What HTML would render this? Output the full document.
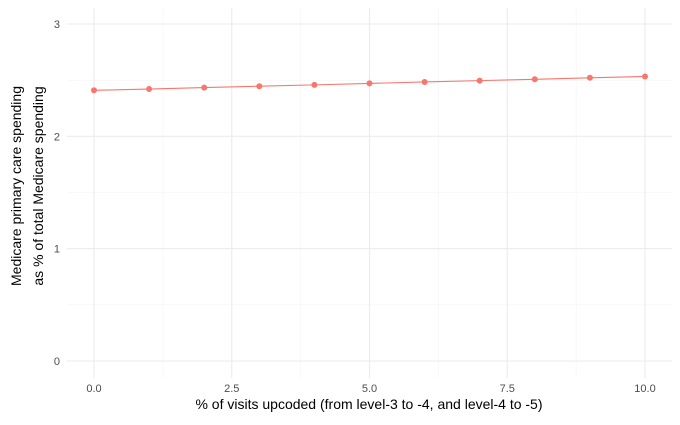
<!DOCTYPE html>
<html><head><meta charset="utf-8"><style>
body{margin:0;background:#fff;font-family:"Liberation Sans",sans-serif}
svg text{font-family:"Liberation Sans",sans-serif}
</style></head><body>
<svg id="chart" width="680" height="420" xmlns="http://www.w3.org/2000/svg">
<g id="grid"></g>
<g id="axes"></g>
<g id="series"></g>
<text x="369" y="409" font-size="14" text-anchor="middle" fill="#000">% of visits upcoded (from level-3 to -4, and level-4 to -5)</text>
<text transform="translate(21,186) rotate(-90)" font-size="14" text-anchor="middle" fill="#000"><tspan x="0" dy="0">Medicare primary care spending</tspan><tspan x="0" dy="22">as % of total Medicare spending</tspan></text>
</svg>
<script>
const xValues=[0,1,2,3,4,5,6,7,8,9,10];
const yValues=[2.41,2.421,2.434,2.446,2.458,2.471,2.484,2.496,2.508,2.521,2.533];
const xTicks=[0,2.5,5,7.5,10];
const xTickLabels=["0.0","2.5","5.0","7.5","10.0"];
const yTicks=[0,1,2,3];
const yTickLabels=["0","1","2","3"];
const NS="http://www.w3.org/2000/svg";
const L=67,R=672,T=8,B=378;
const sx=v=>94+(v-0)*(645-94)/10;
const sy=v=>361-v*(361-24)/3;
function mk(tag,attrs,parent){const e=document.createElementNS(NS,tag);for(const k in attrs)e.setAttribute(k,attrs[k]);parent.appendChild(e);return e;}
const grid=document.getElementById('grid'),axes=document.getElementById('axes'),series=document.getElementById('series');
for(let i=0;i<xTicks.length-1;i++){const m=(xTicks[i]+xTicks[i+1])/2;
 const l=mk('line',{x1:sx(m),x2:sx(m),y1:T,y2:B,stroke:'#f3f3f3','stroke-width':0.6},grid);
 }
for(let i=0;i<yTicks.length-1;i++){const m=(yTicks[i]+yTicks[i+1])/2;
 const l=mk('line',{x1:L,x2:R,y1:sy(m),y2:sy(m),stroke:'#f3f3f3','stroke-width':0.6},grid);
 }
xTicks.forEach((v,i)=>{const l=mk('line',{x1:sx(v),x2:sx(v),y1:T,y2:B,stroke:'#ebebeb','stroke-width':1.1},grid);
 
 const t=mk('text',{x:sx(v),y:392,'font-size':11,'text-anchor':'middle',fill:'#4d4d4d'},axes);t.textContent=xTickLabels[i];
 });
yTicks.forEach((v,i)=>{const l=mk('line',{x1:L,x2:R,y1:sy(v),y2:sy(v),stroke:'#ebebeb','stroke-width':1.1},grid);
 
 const t=mk('text',{x:60,y:sy(v)+4,'font-size':11,'text-anchor':'end',fill:'#4d4d4d'},axes);t.textContent=yTickLabels[i];
 });
const pl=mk('polyline',{points:xValues.map((x,i)=>sx(x)+','+sy(yValues[i])).join(' '),fill:'none',stroke:'#f8766d','stroke-width':1.1},series);

xValues.forEach((x,i)=>{const c=mk('circle',{cx:sx(x),cy:sy(yValues[i]),r:3,fill:'#f8766d'},series);
 });
</script>
</body></html>
